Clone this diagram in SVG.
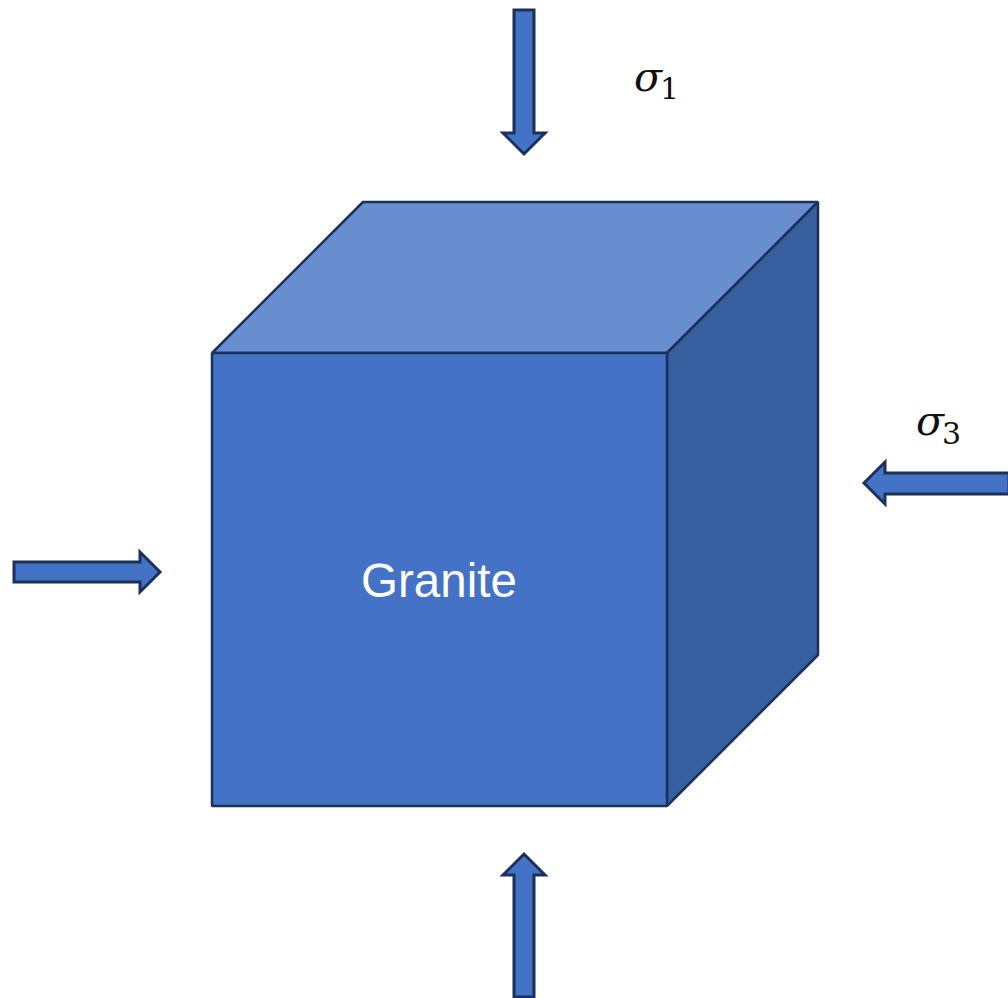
<svg xmlns="http://www.w3.org/2000/svg" width="1008" height="998" viewBox="0 0 1008 998">
<style>
.s{stroke:#1b3158;stroke-width:2.5;stroke-linejoin:bevel}
.a{fill:#4472c4;stroke:#1b3158;stroke-width:3;stroke-linejoin:miter}
.sig{font-family:"DejaVu Serif","Liberation Serif",serif;font-style:italic;font-size:41px;fill:#111}
.sub{font-family:"DejaVu Serif","Liberation Serif",serif;font-size:30px;fill:#111}
</style>
<rect width="1008" height="998" fill="#fff"/>
<g id="cube">
<polygon class="s" fill="#698ed0" points="212,353 363,202 818,202 667,353"/>
<polygon class="s" fill="#365f9f" points="667,353 818,202 818,655 667,806"/>
<rect class="s" fill="#4472c4" x="212" y="353" width="455" height="453"/>
<text x="439" y="597" text-anchor="middle" font-family="Liberation Sans, Arial, sans-serif" font-size="47.5" fill="#fff">Granite</text>
</g>
<g id="connectors">
<polygon class="a" points="514,10 534,10 534,133 545,133 524,154 503,133 514,133"/>
<polygon class="a" points="514,997 534,997 534,875 545,875 524,854 503,875 514,875"/>
<polygon class="a" points="14,562 140,562 140,552 160,572 140,592 140,582 14,582"/>
<polygon class="a" points="1009,473 885,473 885,462 864,483 885,504 885,494 1009,494"/>
</g>
<g id="label-s1">
<text class="sig" x="634" y="91">σ</text>
<text class="sub" x="660" y="99">1</text>
</g>
<g id="label-s3">
<text class="sig" x="916" y="435">σ</text>
<text class="sub" x="942" y="444">3</text>
</g>
</svg>
